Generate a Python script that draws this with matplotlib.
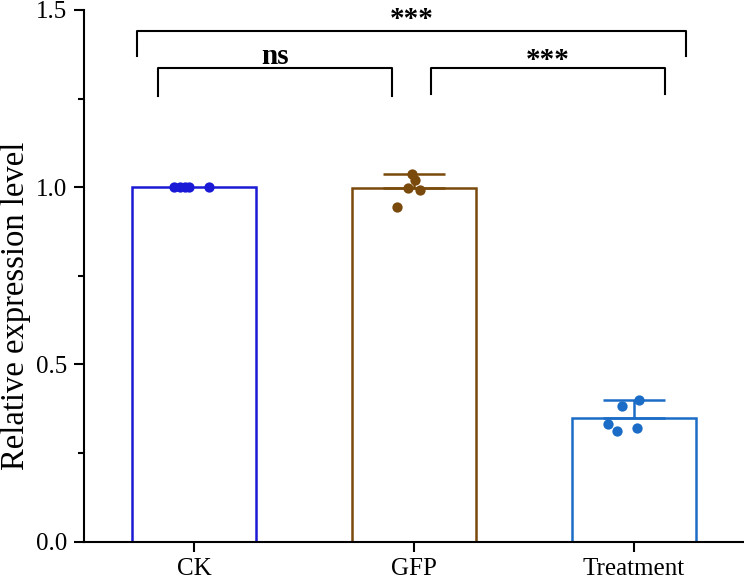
import matplotlib
matplotlib.use("Agg")
import matplotlib.pyplot as plt
from matplotlib.ticker import MultipleLocator

plt.rcParams['font.family'] = ['Liberation Serif', 'DejaVu Serif']

categories = ["CK", "GFP", "Treatment"]
means = [1.0, 0.999, 0.349]
errors = [0.0, 0.039, 0.049]
points = [
    [1.0, 1.0, 1.0, 1.0, 1.0],
    [1.038, 1.021, 0.999, 0.993, 0.945],
    [0.398, 0.383, 0.332, 0.312, 0.321],
]
jitter = [
    [-0.09, -0.064, -0.041, -0.023, 0.068],
    [-0.009, 0.005, -0.027, 0.027, -0.077],
    [0.023, -0.054, -0.118, -0.077, 0.014],
]
colors = ["#1a1ad6", "#7a4a0c", "#1a6cc6"]
comparisons = [(0, 2, "***"), (0, 1, "ns"), (1, 2, "***")]

fig = plt.figure(figsize=(7.44, 5.79), dpi=100)
ax = fig.add_axes([84/744, 37.5/579, 1 - 84/744, 531.5/579])

x = list(range(len(categories)))
for i in x:
    ax.bar(i, means[i], width=0.56, facecolor="white", edgecolor=colors[i],
           linewidth=1.8, zorder=2)
    if errors[i] > 0:
        ax.errorbar(i, means[i], yerr=[[0], [errors[i]]], fmt="none",
                    ecolor=colors[i], elinewidth=1.8, capsize=22, capthick=1.8, zorder=3)
    xs = [i + j for j in jitter[i]]
    ax.scatter(xs, points[i], s=55, color=colors[i], zorder=4, linewidths=0)

# significance brackets: (x0, x1, bracket top, left foot, right foot, label baseline)
specs = [(-0.259, 2.236, 1.442, 1.369, 1.369, 1.451),
         (-0.163, 0.902, 1.335, 1.256, 1.256, 1.349),
         (1.079, 2.14, 1.335, 1.262, 1.262, 1.336)]
for (a, b, lab), (x0, x1, ytop, yl, yr, yt) in zip(comparisons, specs):
    ax.plot([x0, x0, x1, x1], [yl, ytop, ytop, yr], color="black", lw=1.5,
            clip_on=False, zorder=5)
    ax.text((x0 + x1) / 2, yt, lab, ha="center", va="baseline",
            fontsize=21, fontweight="bold", clip_on=False, zorder=6)

ax.set_xlim(-0.5, 2.5)
ax.set_ylim(0, 1.5)
ax.set_xticks(x)
ax.set_xticklabels(categories)
ax.yaxis.set_major_locator(MultipleLocator(0.5))
ax.yaxis.set_minor_locator(MultipleLocator(0.25))
ax.yaxis.set_major_formatter(matplotlib.ticker.FormatStrFormatter("%.1f"))
ax.tick_params(axis="both", which="major", direction="out", length=7, width=1.5,
               labelsize=18, pad=5)
ax.tick_params(axis="y", which="minor", direction="out", length=4, width=1.5)
ax.spines["top"].set_visible(False)
ax.spines["right"].set_visible(False)
ax.spines["left"].set_linewidth(1.5)
ax.spines["bottom"].set_linewidth(1.5)
fig.text(16/744, 1 - 306/579, "Relative expression level", rotation=90,
         ha="center", va="center", fontsize=23.5)

fig.savefig("out.png", dpi=100)
